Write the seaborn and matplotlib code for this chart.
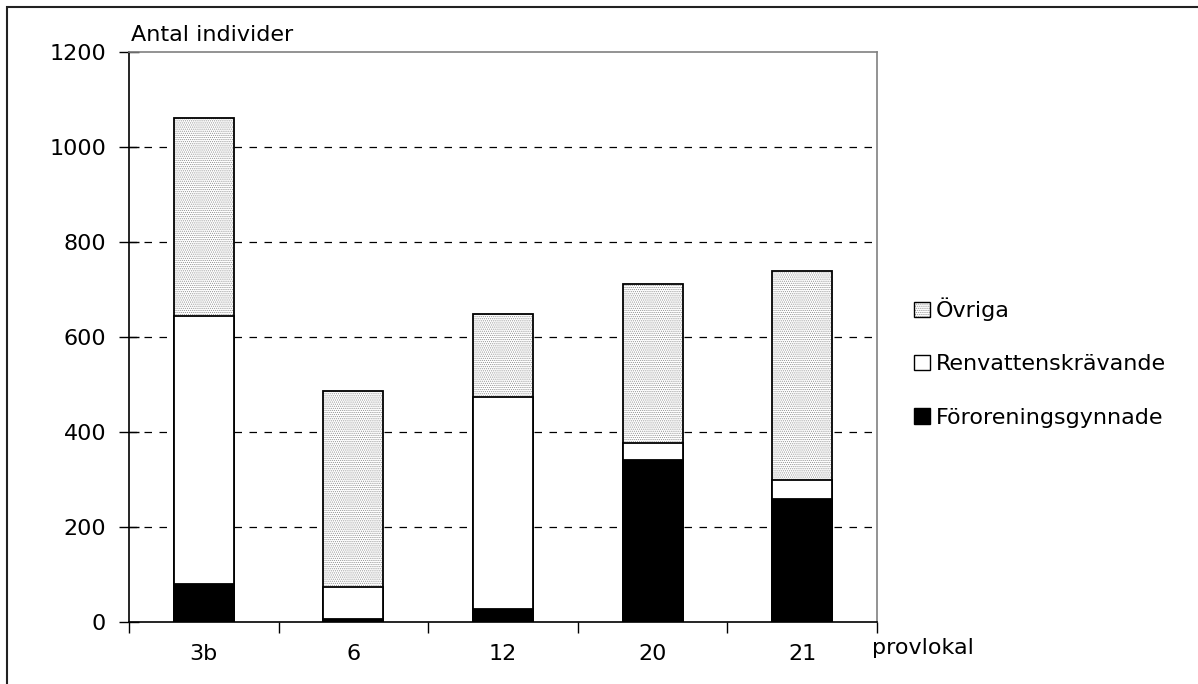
import numpy as np
import matplotlib
matplotlib.use("Agg")
import matplotlib.pyplot as plt
import seaborn as sns
from matplotlib.patches import Patch, Rectangle
from matplotlib.ticker import FixedLocator

# data
lokaler = ['3b', '6', '12', '20', '21']
fororeningsgynnade = [81, 6, 27, 342, 258]
renvattenskravande = [563, 68, 446, 35, 42]
ovriga = [416, 412, 175, 335, 439]
yticks = [0, 200, 400, 600, 800, 1000, 1200]

sns.set_theme(style='white')
plt.rcParams['font.family'] = ['DejaVu Sans']
plt.rcParams['hatch.linewidth'] = 0.5
plt.rcParams['text.color'] = 'black'
plt.rcParams['xtick.color'] = 'black'
plt.rcParams['ytick.color'] = 'black'
plt.rcParams['axes.labelcolor'] = 'black'

FS = 16

fig = plt.figure(figsize=(11.98, 6.84), dpi=100)
ax = fig.add_axes([129 / 1198, 1 - 622 / 684, 748 / 1198, 570 / 684])

ren_cum = np.add(fororeningsgynnade, renvattenskravande)
totals = ren_cum + np.array(ovriga)

bw = 0.4
# top layer (Övriga): stippled fill, then outline
sns.barplot(x=lokaler, y=totals, color='white', saturation=1, width=bw,
            edgecolor='#8c8c8c', linewidth=0, hatch='........', ax=ax, zorder=2)
sns.barplot(x=lokaler, y=totals, color='white', fill=False, saturation=1, width=bw,
            edgecolor='black', linewidth=1.3, ax=ax, zorder=3)
# Renvattenskrävande
sns.barplot(x=lokaler, y=ren_cum, color='white', saturation=1, width=bw,
            edgecolor='black', linewidth=1.3, ax=ax, zorder=4)
# Föroreningsgynnade
sns.barplot(x=lokaler, y=fororeningsgynnade, color='black', saturation=1, width=bw,
            edgecolor='black', linewidth=1.3, ax=ax, zorder=5)

ax.set_xlim(-0.5, 4.5)
ax.set_ylim(0, 1200)
ax.set_yticks(yticks)
ax.set_yticklabels([str(v) for v in yticks], fontsize=FS)
ax.set_xticks(range(len(lokaler)))
ax.set_xticklabels(lokaler, fontsize=FS)
ax.xaxis.set_minor_locator(FixedLocator(np.arange(-0.5, 5, 1)))
ax.tick_params(axis='x', which='major', length=0, pad=16)
ax.tick_params(axis='x', which='minor', length=8, width=1, direction='out', color='black', bottom=True)
ax.tick_params(axis='y', length=15, width=1, direction='inout', color='black', pad=9, left=True)
ax.set_xlabel('')
ax.set_ylabel('')

ax.grid(False)
for v in yticks[1:-1]:
    ax.axhline(v, color='black', lw=0.9, ls=(0, (6, 6)), zorder=1)

for s in ['left', 'bottom']:
    ax.spines[s].set_color('black')
    ax.spines[s].set_linewidth(1.2)
for s in ['top', 'right']:
    ax.spines[s].set_color('#808080')
    ax.spines[s].set_linewidth(1.2)

ax.text(0.003, 1.012, 'Antal individer', transform=ax.transAxes, fontsize=FS,
        ha='left', va='bottom')
ax.text(0.993, -0.046, 'provlokal', transform=ax.transAxes, fontsize=FS,
        ha='left', va='center')

handles = [
    (Patch(facecolor='white', edgecolor='#8c8c8c', linewidth=0, hatch='........'),
     Patch(facecolor='none', edgecolor='black', linewidth=1.0)),
    Patch(facecolor='white', edgecolor='black', linewidth=1.0),
    Patch(facecolor='black', edgecolor='black', linewidth=1.0),
]
labels = ['Övriga', 'Renvattenskrävande', 'Föroreningsgynnade']
ax.legend(handles, labels, loc='center left', bbox_to_anchor=(1.035, 0.455),
          frameon=False, fontsize=FS, handlelength=0.7, handleheight=0.7,
          handletextpad=0.25, labelspacing=1.5, borderpad=0)

# outer frame of the figure (only left/top visible in the reference)
fig.patches.append(Rectangle((7 / 1198, -0.05), 1.2, 1 - 7 / 684 + 0.05,
                             transform=fig.transFigure, fill=False,
                             edgecolor='#222222', linewidth=1.5))

fig.savefig('out.png', dpi=100)
